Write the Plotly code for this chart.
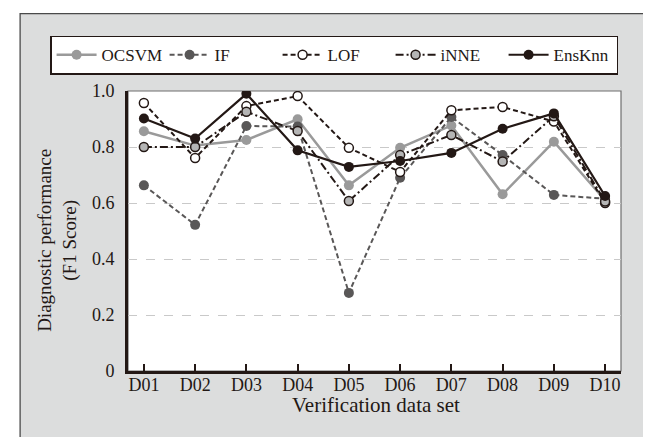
import plotly.graph_objects as go

categories = ["D01", "D02", "D03", "D04", "D05", "D06", "D07", "D08", "D09", "D10"]
ocsvm = [0.856, 0.805, 0.825, 0.899, 0.663, 0.797, 0.877, 0.631, 0.819, 0.61]
iforest = [0.663, 0.522, 0.875, 0.873, 0.279, 0.69, 0.907, 0.771, 0.629, 0.615]
lof = [0.957, 0.761, 0.946, 0.982, 0.797, 0.711, 0.931, 0.943, 0.891, 0.60]
inne = [0.80, 0.80, 0.926, 0.857, 0.607, 0.771, 0.843, 0.748, 0.91, 0.605]
ensknn = [0.902, 0.83, 0.99, 0.788, 0.729, 0.75, 0.779, 0.865, 0.92, 0.625]
ytick_vals = [0, 0.2, 0.4, 0.6, 0.8, 1.0]
ytick_text = ["0", "0.2", "0.4", "0.6", "0.8", "1.0"]

DARK = "#231815"
FONT = "Liberation Serif, DejaVu Serif, serif"

W, H = 651, 437
L, R = 120, 613.5
T, B = 83.3, 363.3
pw, ph = R - L, B - T


def px_x(x):
    return (x - L) / pw


def px_y(y):
    return (B - y) / ph


fig = go.Figure()

series = [
    ("OCSVM", ocsvm, dict(color="#9a9a9a", width=2.5, dash="solid"),
     dict(color="#9a9a9a", size=10, line=dict(color="#9a9a9a", width=0))),
    ("IF", iforest, dict(color="#595757", width=2, dash="5px,3px"),
     dict(color="#595757", size=10, line=dict(color="#595757", width=0))),
    ("LOF", lof, dict(color=DARK, width=2, dash="5px,3px"),
     dict(color="white", size=9, line=dict(color=DARK, width=1.5))),
    ("iNNE", inne, dict(color=DARK, width=2, dash="8px,3px,2px,3px"),
     dict(color="#b5b5b5", size=9, line=dict(color=DARK, width=1.5))),
    ("EnsKnn", ensknn, dict(color=DARK, width=2.2, dash="solid"),
     dict(color=DARK, size=10, line=dict(color=DARK, width=0))),
]

for name, vals, line, marker in series:
    fig.add_trace(go.Scatter(x=categories, y=vals, name=name, mode="lines+markers",
                             line=line, marker=marker))

shapes = [
    dict(type="rect", xref="paper", yref="paper", layer="below",
         x0=px_x(12), x1=px_x(646.5), y0=px_y(445), y1=px_y(6),
         fillcolor="#dcdddd", line=dict(color="#4a4a4a", width=1.3)),
    dict(type="rect", xref="paper", yref="paper", layer="below",
         x0=0, x1=1, y0=0, y1=1, fillcolor="white",
         line=dict(color="#6f6f6f", width=1.2)),
]

annotations = [
    dict(text="Diagnostic performance<br>(F1 Score)", xref="paper", yref="paper",
         x=px_x(50), y=0.465, textangle=-90, showarrow=False,
         font=dict(family=FONT, size=19, color=DARK), xanchor="center", yanchor="middle"),
    dict(text="Verification data set", xref="paper", yref="paper",
         x=px_x(368), y=px_y(397), showarrow=False,
         font=dict(family=FONT, size=21, color=DARK), xanchor="center", yanchor="middle"),
]

fig.update_layout(
    width=W, height=H,
    margin=dict(l=L, r=W - R, t=T, b=H - B),
    paper_bgcolor="white", plot_bgcolor="white",
    font=dict(family=FONT, color=DARK, size=17),
    shapes=shapes, annotations=annotations,
    showlegend=True,
    legend=dict(orientation="h", x=px_x(42), y=px_y(28), xanchor="left", yanchor="top",
                bgcolor="white", bordercolor=DARK, borderwidth=1.5,
                font=dict(family=FONT, size=17, color=DARK),
                entrywidth=58, entrywidthmode="pixels",
                itemwidth=40, tracegroupgap=0),
    xaxis=dict(type="category", categoryorder="array", categoryarray=categories,
               range=[-0.31, 9.31], showgrid=False, zeroline=False,
               showline=True, linewidth=3, linecolor=DARK,
               ticks="inside", ticklen=7, tickwidth=1.5, tickcolor=DARK,
               ticklabelstandoff=-5,
               tickfont=dict(family=FONT, size=18, color=DARK)),
    yaxis=dict(range=[0, 1], tickvals=ytick_vals, ticktext=ytick_text,
               showgrid=True, gridcolor="#c9c9c9", gridwidth=1, griddash="dash",
               zeroline=False, showline=True, linewidth=3, linecolor=DARK,
               ticks="", ticklabelstandoff=7,
               tickfont=dict(family=FONT, size=18, color=DARK)),
)

fig.write_html("out.html")
